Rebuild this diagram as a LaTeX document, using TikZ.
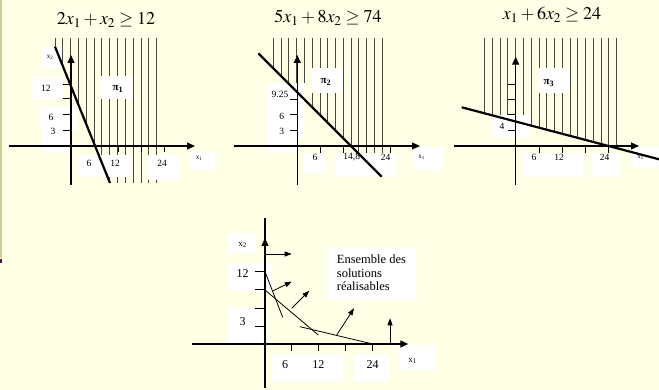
\documentclass[tikz,border=0pt]{standalone}
\usepackage{mathptmx}
\usepackage{fontspec}
\setmainfont{Liberation Serif}
\usetikzlibrary{arrows.meta}
\definecolor{bgyellow}{RGB}{255,255,229}
\definecolor{edgeolive}{RGB}{204,204,153}
\definecolor{markpurple}{RGB}{80,20,80}

\begin{document}
\begin{tikzpicture}[x=1pt, y=-1pt,
  hatch/.style={black!72, line width=1pt},
  axis/.style={line width=1.2pt},
  axisarrow/.style={line width=1.2pt, -{Triangle[length=8pt,width=7pt]}},
  tick/.style={line width=1pt},
  constr/.style={line width=2.2pt},
  wbox/.style={fill=white},
  title/.style={font=\fontsize{18}{20}\selectfont, inner sep=0pt},
  tl/.style={font=\fontsize{9.5}{11}\selectfont, inner sep=0pt},
  sx/.style={font=\fontsize{7}{8}\selectfont, inner sep=0pt},
  pil/.style={font=\fontsize{11}{13}\selectfont\bfseries, inner sep=0pt},
  bl/.style={font=\fontsize{12}{14}\selectfont, inner sep=0pt},
  bx/.style={font=\fontsize{9}{10}\selectfont, inner sep=0pt},
  small arrow/.style={line width=0.8pt, -{Triangle[length=7pt,width=5pt]}}]
 %background:
 \fill[bgyellow] (0,0) rectangle (659,390);
 \useasboundingbox (0,0) rectangle (659,390);
 \draw[edgeolive, line width=1.5pt] (0.75,0) -- (0.75,258);
 \fill[markpurple] (0,259) rectangle (2,263);

 %first constraint
 \coordinate (O1) at (71,146);
 \foreach \i in {0,...,13}{
  \pgfmathsetmacro\hx{55+7.82*\i}
  \pgfmathsetmacro\hy{min(46.7+2.478*(\hx-55),183)}
  \draw[hatch] (\hx,38) -- (\hx,\hy);
 }
 \fill[wbox] (42,47) rectangle (62,68);
 \fill[wbox] (33,77) rectangle (63,99);
 \fill[wbox] (40,107) rectangle (78,130);
 \fill[wbox] (42,130) rectangle (70,153);
 \fill[wbox] (100,76) rectangle (133,99);
 \fill[wbox] (79,155) rectangle (132,177);
 \fill[wbox] (147,155) rectangle (180,180);
 \fill[wbox] (190,152) rectangle (217,170);
 \draw[axisarrow] (9,146) -- (195,146);
 \draw[axis] (71,185) -- (71,62);
 \draw[axisarrow] (71,70) -- (71,55);
 \foreach \ty in {85,99,115,131}
  \draw[tick] (63,\ty) -- (O1 |- 0,\ty);
 \foreach \tx in {118,141,164.7}
  \draw[tick] (\tx,146) -- (\tx,152);
 \draw[constr] (55,46.7) -- (110,183);
 \node[title] (c1) at (106,20) {$2x_1+x_2\geq 12$};
 \node[sx] (c1y) at (50,57) {x\textsubscript{2}};
 \node[tl] (c1a) at (46,88) {12};
 \node[tl] (c1b) at (51,117) {6};
 \node[tl] (c1c) at (53,131) {3};
 \node[pil] (c1p) at (118,89) {π\textsubscript{1}};
 \node[tl] (c1d) at (89,163) {6};
 \node[tl] (c1e) at (115,163) {12};
 \node[tl] (c1f) at (162,163) {24};
 \node[sx] (c1x) at (199,158) {x\textsubscript{1}};

 %second constraint
 \coordinate (O2) at (297.3,146);
 \foreach \i in {0,...,14}{
  \pgfmathsetmacro\hx{273.3+7.79*\i}
  \pgfmathsetmacro\hy{min(53.3+(\hx-258.3),176.7)}
  \draw[hatch] (\hx,38) -- (\hx,\hy);
 }
 \fill[wbox] (266.7,83) rectangle (305,138);
 \fill[wbox] (266.7,126.7) rectangle (298.3,153.3);
 \fill[wbox] (311.7,68) rectangle (343.3,93);
 \fill[wbox] (304.3,153.3) rectangle (326.7,173.3);
 \fill[wbox] (335,153.3) rectangle (396.7,176.7);
 \fill[wbox] (413,147) rectangle (443,170);
 \draw[axisarrow] (234,146) -- (420,146);
 \draw[axis] (297.3,185) -- (297.3,62);
 \draw[axisarrow] (297.3,70) -- (297.3,55);
 \foreach \ty in {99.5,115,130.7}
  \draw[tick] (290,\ty) -- (O2 |- 0,\ty);
 \foreach \tx in {320,343.3,366.7,390}
  \draw[tick] (\tx,146) -- (\tx,153);
 \draw[constr] (258.3,53.3) -- (381.7,176.7);
 \node[title] (c2) at (328,18) {$5x_1+8x_2\geq 74$};
 \node[tl] (c2a) at (280,94) {9.25};
 \node[tl] (c2b) at (281.7,116.5) {6};
 \node[tl] (c2c) at (281.7,131.5) {3};
 \node[pil] (c2p) at (326,82) {π\textsubscript{2}};
 \node[tl] (c2d) at (315,157) {6};
 \node[tl] (c2e) at (351.7,157) {14,8};
 \node[tl] (c2f) at (385.7,157) {24};
 \node[sx] (c2x) at (421.7,157) {x\textsubscript{1}};

 %third constraint
 \coordinate (O3) at (515.7,146);
 \foreach \i in {0,...,17}{
  \pgfmathsetmacro\hx{484.7+7.76*\i}
  \pgfmathsetmacro\hy{107.3+0.2636*(\hx-461.7)}
  \draw[hatch] (\hx,38) -- (\hx,\hy);
 }
 \fill[wbox] (492,115) rectangle (531,138);
 \fill[wbox] (539,68) rectangle (569,93);
 \fill[wbox] (523,153) rectangle (585,177);
 \fill[wbox] (592,153) rectangle (621,177);
 \fill[wbox] (630.7,147) rectangle (659,168);
 \draw[axisarrow] (454,146) -- (639,146);
 \draw[axis] (515.7,185) -- (515.7,64);
 \draw[axisarrow] (515.7,72) -- (515.7,56.7);
 \foreach \ty in {85,100,115,130.7}
  \draw[tick] (508,\ty) -- (O3 |- 0,\ty);
 \foreach \tx in {539,562.3,585.7,608}
  \draw[tick] (\tx,146) -- (\tx,153);
 \draw[constr] (461.7,107.3) -- (659,159.3);
 \node[title] (c3) at (552,15) {$x_1+6x_2\geq 24$};
 \node[tl] (c3a) at (502,126) {4};
 \node[pil] (c3p) at (549,83) {π\textsubscript{3}};
 \node[tl] (c3d) at (534,157) {6};
 \node[tl] (c3e) at (559,157) {12};
 \node[tl] (c3f) at (604.7,157) {24};
 \node[sx] (c3x) at (640.7,157) {x\textsubscript{1}};

 %feasible set
 \coordinate (O4) at (265,344);
 \fill[wbox] (227.7,233.3) rectangle (256.7,253.3);
 \fill[wbox] (228,263) rectangle (273.3,290.7);
 \fill[wbox] (228,308) rectangle (262.7,343);
 \fill[wbox] (272.7,354) rectangle (345,381.7);
 \fill[wbox] (354,354) rectangle (390,381.7);
 \fill[wbox] (399,345) rectangle (437,370);
 \fill[wbox] (327,246.7) rectangle (417,300);
 \draw[axisarrow] (191.7,344) -- (408.3,344);
 \draw[axis] (265,388) -- (265,218);
 \draw[axisarrow] (265,250) -- (265,238);
 \foreach \ty in {271.7,290,308.3,326.7}
  \draw[tick] (255,\ty) -- (O4 |- 0,\ty);
 \foreach \tx in {291.7,318.3,345,372.7}
  \draw[tick] (\tx,344) -- (\tx,351);
 \draw[line width=0.8pt] (265,271.7) -- (282.7,317.3);
 \draw[line width=0.8pt] (265,290) -- (318.3,335);
 \draw[line width=0.8pt] (300,326.7) -- (372.7,344);
 \draw[small arrow] (265,254) -- (291.7,254);
 \draw[small arrow] (273.3,290.7) -- (291.7,281.7);
 \draw[small arrow] (291.7,308.3) -- (309.3,290.7);
 \draw[small arrow] (336.7,335) -- (354,308.3);
 \draw[small arrow] (390,344) -- (390,318.3);
 \node[bx] (fy) at (242.7,245) {x\textsubscript{2}};
 \node[bl] (fa) at (242.7,274) {12};
 \node[bl] (fb) at (242.7,321.7) {3};
 \node[bl] (fc) at (285,365) {6};
 \node[bl] (fd) at (318.3,365) {12};
 \node[bl] (fe) at (372.7,365) {24};
 \node[bx] (fx) at (412.7,360.7) {x\textsubscript{1}};
 \node[bl, align=left, anchor=north west, font=\fontsize{12.5}{13.8}\selectfont] (fset) at (336.7,254.5)
  {Ensemble des\\solutions\\réalisables};
\end{tikzpicture}
\end{document}
